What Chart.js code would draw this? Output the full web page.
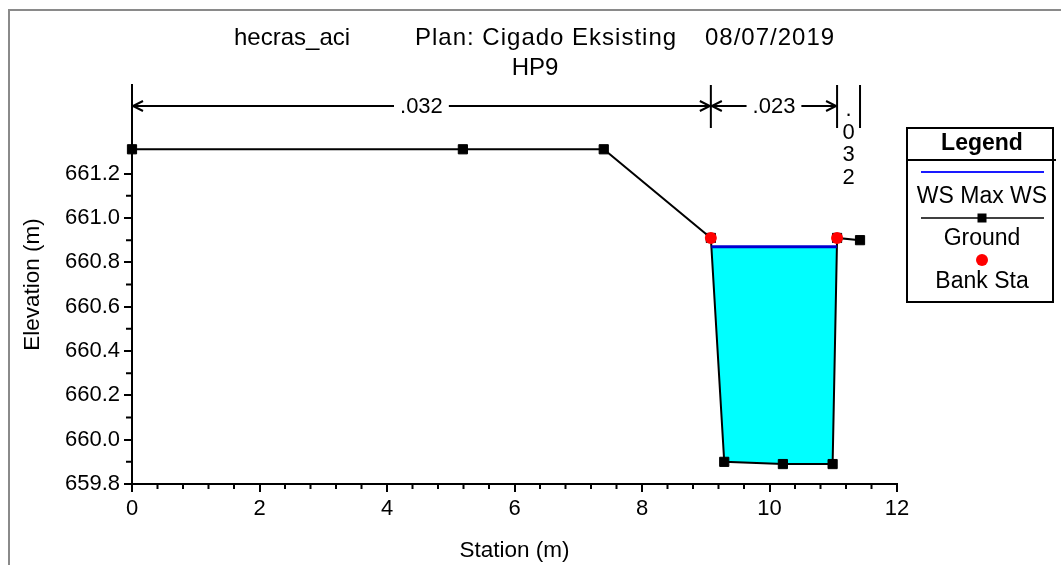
<!DOCTYPE html>
<html>
<head>
<meta charset="utf-8">
<script src="https://cdn.jsdelivr.net/npm/chart.js@4/dist/chart.umd.min.js"></script>
<style>
  body { margin: 0; background: #fff; }
  #wrap { width: 1061px; height: 565px; position: relative; }
</style>
</head>
<body>
<div id="wrap"><canvas id="xsChart" width="1061" height="565"></canvas></div>
<script>
// Cross section HP9 data
const stations = [0, 5.19, 7.40, 9.08, 9.29, 10.21, 10.99, 11.06, 11.42];
const groundElev = [661.31, 661.31, 661.31, 660.91, 659.90, 659.89, 659.89, 660.91, 660.90];
const bankStations = [9.08, 11.06];
const bankElev = [660.91, 660.91];
const wsMaxElev = 660.87;
const nStations = [0, 9.08, 11.06, 11.42];
const nValues = ['.032', '.023', '.032'];
const xTicks = [0, 2, 4, 6, 8, 10, 12];
const yTicks = [659.8, 660.0, 660.2, 660.4, 660.6, 660.8, 661.0, 661.2];

const FONT = '"Liberation Sans", Arial, sans-serif';

// water polygon: ground below WS, closed at the two crossings
function waterShape() {
    const pts = [];
    for (let i = 0; i < stations.length - 1; i++) {
        const y0 = groundElev[i], y1 = groundElev[i + 1];
        if (y0 < wsMaxElev) pts.push({ x: stations[i], y: y0 });
        if ((y0 - wsMaxElev) * (y1 - wsMaxElev) < 0) {
            const t = (wsMaxElev - y0) / (y1 - y0);
            pts.push({ x: stations[i] + t * (stations[i + 1] - stations[i]), y: wsMaxElev });
        }
    }
    pts.push(pts[0]);
    return pts;
}
const water = waterShape();
const wsLine = [water[0], water[water.length - 2]];

const decorPlugin = {
    id: 'decor',
    beforeDraw(chart) {
        const ctx = chart.ctx;
        ctx.save();
        ctx.fillStyle = '#fff';
        ctx.fillRect(0, 0, chart.width, chart.height);
        ctx.strokeStyle = '#8a8a8a';
        ctx.lineWidth = 2;
        ctx.strokeRect(9, 10, 1200, 700);
        ctx.restore();
    },
    afterDraw(chart) {
        const ctx = chart.ctx;
        const xs = chart.scales.x, ys = chart.scales.y;
        const area = chart.chartArea;
        ctx.save();
        ctx.fillStyle = '#000';
        ctx.strokeStyle = '#000';

        // titles
        ctx.textBaseline = 'middle';
        ctx.textAlign = 'left';
        ctx.font = '24px ' + FONT;
        ctx.fillText('hecras_aci', 234, 38);
        ctx.letterSpacing = '1px';
        ctx.fillText('Plan: Cigado Eksisting', 415, 38);
        ctx.fillText('08/07/2019', 705, 38);
        ctx.letterSpacing = '0px';
        ctx.textAlign = 'center';
        ctx.fillText('HP9', 535, 68);

        // minor ticks
        ctx.lineWidth = 2;
        ctx.beginPath();
        for (let i = 0; i <= 30; i++) {
            if (i % 5 === 0) continue;
            const px = xs.getPixelForValue(i * 0.4);
            ctx.moveTo(px, area.bottom);
            ctx.lineTo(px, area.bottom + 5);
        }
        for (let i = 0; i < 7; i++) {
            const py = ys.getPixelForValue(659.9 + i * 0.2);
            ctx.moveTo(area.left, py);
            ctx.lineTo(area.left - 6, py);
        }
        ctx.stroke();

        // Manning's n markers
        const top = area.top, lineBot = 128, arrowY = 106;
        ctx.lineWidth = 2;
        ctx.beginPath();
        nStations.forEach(s => {
            const px = xs.getPixelForValue(s);
            ctx.moveTo(px, top);
            ctx.lineTo(px, lineBot);
        });
        ctx.stroke();
        ctx.font = '22px ' + FONT;
        for (let i = 0; i < nValues.length; i++) {
            const a = xs.getPixelForValue(nStations[i]);
            const b = xs.getPixelForValue(nStations[i + 1]);
            const mid = (a + b) / 2;
            const tw = ctx.measureText(nValues[i]).width;
            if (b - a > tw + 30) {
                ctx.lineWidth = 2;
                ctx.beginPath();
                ctx.moveTo(a, arrowY); ctx.lineTo(mid - tw / 2 - 6, arrowY);
                ctx.moveTo(mid + tw / 2 + 6, arrowY); ctx.lineTo(b, arrowY);
                ctx.moveTo(a + 11, arrowY - 5); ctx.lineTo(a + 1, arrowY); ctx.lineTo(a + 11, arrowY + 5);
                ctx.moveTo(b - 11, arrowY - 5); ctx.lineTo(b - 1, arrowY); ctx.lineTo(b - 11, arrowY + 5);
                ctx.stroke();
                ctx.fillText(nValues[i], mid, arrowY + 1);
            } else {
                nValues[i].split('').forEach((ch, k) => {
                    ctx.fillText(ch, mid, 110 + k * 22.5);
                });
            }
        }

        // legend box
        const lx = 907, lr = 1053, ly = 128, lb = 302, cx = 982;
        ctx.lineWidth = 2;
        ctx.strokeRect(lx, ly, lr - lx, lb - ly);
        ctx.beginPath();
        ctx.moveTo(lx, 160); ctx.lineTo(1056, 160);
        ctx.stroke();
        ctx.font = 'bold 23px ' + FONT;
        ctx.fillText('Legend', cx, 144);
        ctx.font = '23px ' + FONT;
        ctx.strokeStyle = '#1a1aff';
        ctx.beginPath(); ctx.moveTo(921, 172); ctx.lineTo(1044, 172); ctx.stroke();
        ctx.fillText('WS Max WS', cx, 197);
        ctx.strokeStyle = '#000';
        ctx.lineWidth = 1.5;
        ctx.beginPath(); ctx.moveTo(921, 218); ctx.lineTo(1044, 218); ctx.stroke();
        ctx.fillRect(cx - 4.5, 218 - 4.5, 9, 9);
        ctx.fillText('Ground', cx, 239);
        ctx.fillStyle = '#ff0000';
        ctx.beginPath(); ctx.arc(cx, 260, 6, 0, Math.PI * 2); ctx.fill();
        ctx.fillStyle = '#000';
        ctx.fillText('Bank Sta', cx, 282);
        ctx.restore();
    }
};

const ctx = document.getElementById('xsChart').getContext('2d');
new Chart(ctx, {
    type: 'scatter',
    data: {
        datasets: [
            {
                label: 'Bank Sta',
                data: bankStations.map((s, i) => ({ x: s, y: bankElev[i] })),
                pointStyle: 'circle',
                pointRadius: 6,
                pointBackgroundColor: '#ff0000',
                pointBorderWidth: 0,
                showLine: false
            },
            {
                label: 'WS Max WS',
                data: wsLine,
                showLine: true,
                borderColor: '#0000d0',
                borderWidth: 3,
                pointRadius: 0
            },
            {
                label: 'Ground',
                data: stations.map((s, i) => ({ x: s, y: groundElev[i] })),
                showLine: true,
                borderColor: '#000',
                borderWidth: 2,
                pointStyle: 'rect',
                pointRadius: 6.5,
                pointBackgroundColor: '#000',
                pointBorderColor: '#000',
                pointBorderWidth: 1
            },
            {
                label: 'water',
                data: water,
                showLine: true,
                borderWidth: 0,
                borderColor: 'rgba(0,0,0,0)',
                backgroundColor: '#00ffff',
                fill: 'shape',
                pointRadius: 0
            }
        ]
    },
    options: {
        responsive: false,
        animation: false,
        clip: false,
        layout: { padding: { left: 10, top: 85, right: 164, bottom: 0 } },
        plugins: {
            legend: { display: false },
            tooltip: { enabled: false }
        },
        scales: {
            x: {
                type: 'linear',
                min: 0,
                max: 12,
                afterBuildTicks: s => { s.ticks = xTicks.map(v => ({ value: v })); },
                afterFit: s => { s.height = 81; },
                grid: { drawOnChartArea: false, drawTicks: true, tickLength: 8, color: '#000', lineWidth: 2 },
                border: { display: true, color: '#000', width: 2 },
                ticks: { color: '#000', font: { family: FONT, size: 22 }, padding: 4, maxRotation: 0 },
                title: { display: true, text: 'Station (m)', color: '#000', font: { family: FONT, size: 22.5 }, padding: { top: 0, bottom: 1 } }
            },
            y: {
                type: 'linear',
                min: 659.8,
                max: 661.6,
                afterBuildTicks: s => { s.ticks = yTicks.map(v => ({ value: v })); },
                afterFit: s => { s.width = 122; },
                grid: { drawOnChartArea: false, drawTicks: true, tickLength: 8, color: '#000', lineWidth: 2 },
                border: { display: true, color: '#000', width: 2 },
                ticks: { color: '#000', font: { family: FONT, size: 22 }, padding: 4, callback: v => v.toFixed(1) },
                title: { display: true, text: 'Elevation (m)', color: '#000', font: { family: FONT, size: 22.5 }, padding: { top: 9, bottom: 0 } }
            }
        }
    },
    plugins: [decorPlugin]
});
</script>
</body>
</html>
